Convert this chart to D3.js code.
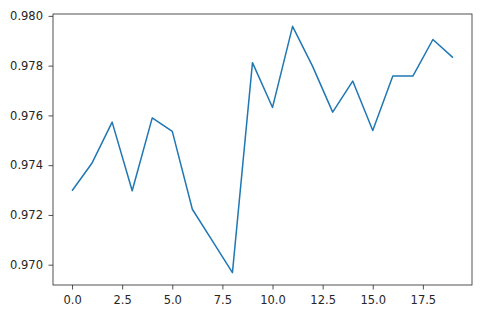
<!DOCTYPE html>
<html>
<head>
<meta charset="utf-8">
<script src="https://cdn.jsdelivr.net/npm/d3@7"></script>
<style>
  body { margin: 0; background: #fff; }
  svg { display: block; }
  .tick text { font-family: "DejaVu Sans", sans-serif; font-size: 11.5px; fill: #262626; }
</style>
</head>
<body>
<svg id="chart" width="493" height="319"></svg>
<script>
// data
const epochs = d3.range(20);
const accuracy = [
  0.97297, 0.97409, 0.97573, 0.97297, 0.97590,
  0.97536, 0.97223, 0.97096, 0.96968, 0.97812,
  0.97632, 0.97958, 0.97797, 0.97613, 0.97738,
  0.97539, 0.97758, 0.97758, 0.97905, 0.97832
];
const xTicks = [0, 2.5, 5, 7.5, 10, 12.5, 15, 17.5];
const yTicks = [0.970, 0.972, 0.974, 0.976, 0.978, 0.980];

const svg = d3.select("#chart");
const margin = { top: 14, right: 21, bottom: 34, left: 53 };
const width = +svg.attr("width") - margin.left - margin.right;
const height = +svg.attr("height") - margin.top - margin.bottom;

// matplotlib style 5% padding on both axes
const xPad = (d3.max(epochs) - d3.min(epochs)) * 0.05;
const [yMin, yMax] = d3.extent(accuracy);
const yPad = (yMax - yMin) * 0.05;

const x = d3.scaleLinear()
  .domain([d3.min(epochs) - xPad, d3.max(epochs) + xPad])
  .range([0, width]);

const y = d3.scaleLinear()
  .domain([yMin - yPad, yMax + yPad])
  .range([height, 0]);

const g = svg.append("g")
  .attr("transform", `translate(${margin.left},${margin.top})`);

// axes
const xAxis = g.append("g")
  .attr("transform", `translate(0,${height})`)
  .call(d3.axisBottom(x).tickValues(xTicks).tickFormat(d3.format(".1f")).tickSize(4.5).tickPadding(6));

const yAxis = g.append("g")
  .call(d3.axisLeft(y).tickValues(yTicks).tickFormat(d3.format(".3f")).tickSize(4.5).tickPadding(5.5));

[xAxis, yAxis].forEach(a => {
  a.select(".domain").remove();
  a.selectAll(".tick line").attr("stroke", "#262626").attr("stroke-width", 0.8);
});

// frame
g.append("rect")
  .attr("width", width)
  .attr("height", height)
  .attr("fill", "none")
  .attr("stroke", "#262626")
  .attr("stroke-width", 0.8);

// the line
const line = d3.line()
  .x((d, i) => x(epochs[i]))
  .y(d => y(d));

g.append("path")
  .datum(accuracy)
  .attr("fill", "none")
  .attr("stroke", "#1f77b4")
  .attr("stroke-width", 1.5)
  .attr("stroke-linejoin", "round")
  .attr("d", line);
</script>
</body>
</html>
